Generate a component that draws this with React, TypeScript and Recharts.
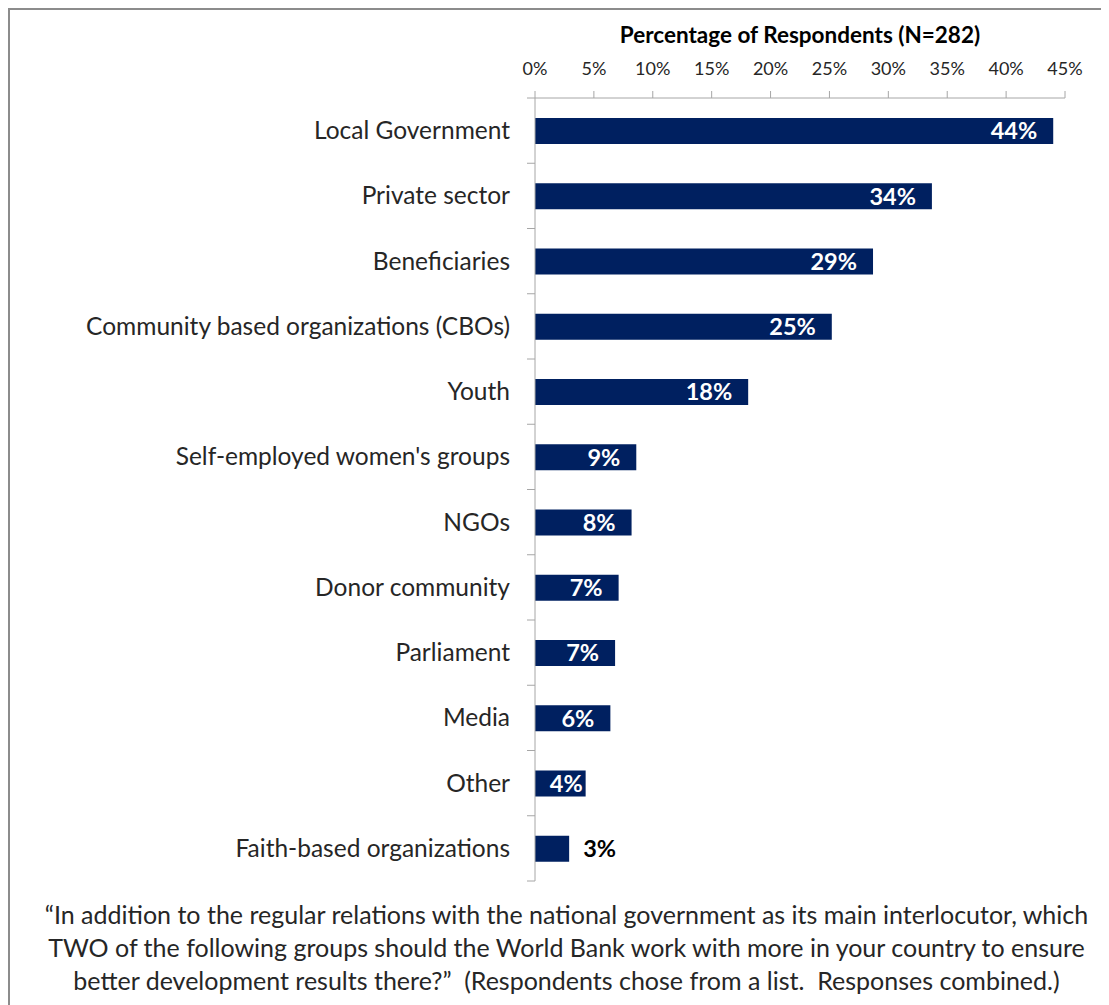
import React from "react";
import { Bar, BarChart, Label, LabelList, XAxis, YAxis } from "recharts";

const categories = [
  "Local Government",
  "Private sector",
  "Beneficiaries",
  "Community based organizations (CBOs)",
  "Youth",
  "Self-employed women's groups",
  "NGOs",
  "Donor community",
  "Parliament",
  "Media",
  "Other",
  "Faith-based organizations",
];
const shares = [44.0, 33.7, 28.7, 25.2, 18.1, 8.6, 8.2, 7.1, 6.8, 6.4, 4.3, 2.9];
const xTicks = [0, 5, 10, 15, 20, 25, 30, 35, 40, 45];

const FONT = "Lato, 'Open Sans', sans-serif";
const NAVY = "#002060";
const AXIS = "#a6a6a6";

const W = 1091;
const H = 880;
const MARGIN = { top: 58, right: 36, bottom: 9, left: 0 };
const X_AXIS_H = 30;
const Y_AXIS_W = 525;
const AXIS_X = MARGIN.left + Y_AXIS_W;
const BAND = (H - MARGIN.top - MARGIN.bottom - X_AXIS_H) / categories.length;

const data = categories.map((name, i) => ({ name, share: shares[i] }));

function CategoryTick(props: any) {
  const { y, payload, index } = props;
  const last = index === categories.length - 1;
  return (
    <g>
      <line x1={AXIS_X - 8} x2={AXIS_X} y1={y - BAND / 2} y2={y - BAND / 2} stroke={AXIS} />
      {last && (
        <line x1={AXIS_X - 8} x2={AXIS_X} y1={y + BAND / 2} y2={y + BAND / 2} stroke={AXIS} />
      )}
      <text
        x={AXIS_X - 25}
        y={y}
        dy="0.35em"
        textAnchor="end"
        fontFamily={FONT}
        fontSize={24.5}
        fill="#262626"
      >
        {payload.value}
      </text>
    </g>
  );
}

function BarValue(props: any) {
  const { x, y, width, height, value } = props;
  const outside = value < 3.5;
  // inside-end label, nudged right when the bar is too short for the usual padding
  const insideX = Math.min(Math.max(x + width - 16, x + 48), x + width - 3);
  return (
    <text
      x={outside ? x + width + 14 : insideX}
      y={y + height / 2}
      dy="0.36em"
      textAnchor={outside ? "start" : "end"}
      fontFamily={FONT}
      fontWeight={700}
      fontSize={23.5}
      fill={outside ? "#000" : "#fff"}
    >
      {Math.round(value)}%
    </text>
  );
}

export default function App() {
  return (
    <div
      style={{
        width: 1093,
        height: 997,
        borderLeft: `2px solid #8c8c8c`,
        borderTop: `2px solid #8c8c8c`,
        boxSizing: "border-box",
        overflow: "hidden",
        fontFamily: FONT,
        background: "#fff",
      }}
    >
      <BarChart width={W} height={H} data={data} layout="vertical" margin={MARGIN}>
        <XAxis
          type="number"
          orientation="top"
          domain={[0, 45]}
          ticks={xTicks}
          height={X_AXIS_H}
          tickFormatter={(v) => `${v}%`}
          tickSize={7}
          tickMargin={16}
          stroke={AXIS}
          tick={{ fill: "#262626", fontSize: 18, fontFamily: FONT }}
        >
          <Label
            value="Percentage of Respondents (N=282)"
            position="top"
            offset={25}
            style={{ fontFamily: FONT, fontWeight: 700, fontSize: 22.5, fill: "#000" }}
          />
        </XAxis>
        <YAxis
          type="category"
          dataKey="name"
          width={Y_AXIS_W}
          tickLine={false}
          stroke={AXIS}
          tick={<CategoryTick />}
          interval={0}
        />
        <Bar dataKey="share" fill={NAVY} barSize={26} isAnimationActive={false}>
          <LabelList dataKey="share" content={<BarValue />} />
        </Bar>
      </BarChart>
      <div
        style={{
          paddingLeft: 22,
          paddingTop: 8,
          textAlign: "center",
          fontSize: 25,
          lineHeight: "33px",
          color: "#262626",
          whiteSpace: "nowrap",
        }}
      >
        “In addition to the regular relations with the national government as its main interlocutor, which
        <br />
        TWO of the following groups should the World Bank work with more in your country to ensure
        <br />
        better development results there?”&nbsp; (Respondents chose from a list.&nbsp; Responses combined.)
      </div>
    </div>
  );
}
